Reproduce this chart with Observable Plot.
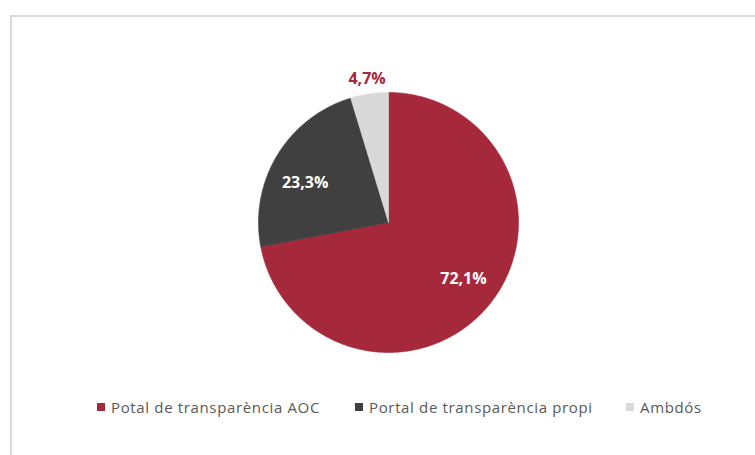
<!DOCTYPE html>
<html>
<head>
<meta charset="utf-8">
<script src="https://cdn.jsdelivr.net/npm/d3@7"></script>
<script src="https://cdn.jsdelivr.net/npm/@observablehq/plot@0.6"></script>
<style>
  html, body { margin: 0; padding: 0; background: #fff; }
  body { width: 755px; height: 455px; overflow: hidden; position: relative; font-family: "Open Sans", "DejaVu Sans", sans-serif; }
  #frame { position: absolute; left: 10px; top: 15px; width: 800px; height: 500px; border-left: 2px solid #d9d9d9; border-top: 2px solid #d9d9d9; box-sizing: border-box; }
  #chart { position: absolute; left: 0; top: 0; }
  #legend { position: absolute; top: 397px; left: 0; width: 755px; height: 22px; font-size: 15px; letter-spacing: 0.65px; color: #595959; }
  .item { position: absolute; top: 0; display: flex; align-items: center; white-space: nowrap; }
  .sw { width: 8px; height: 8px; margin-right: 6px; display: inline-block; }
</style>
</head>
<body>
<div id="frame"></div>
<div id="chart"></div>
<div id="legend"></div>
<script>
const categories = ["Potal de transparència AOC", "Portal de transparència propi", "Ambdós"];
const values = [72.1, 23.3, 4.7];
const labels = ["72,1%", "23,3%", "4,7%"];
const colors = ["#a6283b", "#404040", "#d9d9d9"];

const W = 755, H = 390;
const cx = 388, cy = 222, R = 130;

// slices from d3.pie (clockwise from top, in data order)
const pie = d3.pie().sort(null).value(d => d.value)(categories.map((name, i) => ({name, value: values[i], label: labels[i]})));

const pts = [];
for (const a of pie) {
  const n = Math.max(8, Math.ceil((a.endAngle - a.startAngle) / 0.01));
  pts.push({name: a.data.name, x: 0, y: 0});
  for (let k = 0; k <= n; k++) {
    const t = a.startAngle + (a.endAngle - a.startAngle) * k / n;
    pts.push({name: a.data.name, x: Math.sin(t), y: Math.cos(t)});
  }
  pts.push({name: a.data.name, x: 0, y: 0});
}

// label positions: inner labels inside the slice, the small slice's label outside
const labelRadius = [0.72, 0.71, 1.12];
const labelAngleShift = [-0.05, -0.1, 0];
const labelPts = pie.map((a, i) => {
  const mid = (a.startAngle + a.endAngle) / 2 + labelAngleShift[i];
  const rr = labelRadius[i];
  return {
    name: a.data.name, label: a.data.label,
    x: Math.sin(mid) * rr, y: Math.cos(mid) * rr,
    fill: i === 2 ? colors[0] : "#ffffff"
  };
});

const chart = Plot.plot({
  width: W, height: H,
  margin: 0,
  style: {background: "transparent", overflow: "visible"},
  x: {domain: [-cx / R, (W - cx) / R], range: [0, W], axis: null},
  y: {domain: [-(H - cy) / R, cy / R], range: [H, 0], axis: null},
  color: {domain: categories, range: colors},
  marks: [
    Plot.line(pts, {x: "x", y: "y", z: "name", fill: "name", stroke: "name", strokeWidth: 0.6, curve: "linear"}),
    Plot.text(labelPts, {x: "x", y: "y", text: "label", fill: d => d.fill, fontWeight: "bold", fontSize: 16, fontFamily: "Open Sans, DejaVu Sans, sans-serif"})
  ]
});
document.getElementById("chart").appendChild(chart);

// legend
const legendX = [97, 355, 626];
const leg = document.getElementById("legend");
categories.forEach((c, i) => {
  const it = document.createElement("div");
  it.className = "item";
  it.style.left = legendX[i] + "px";
  const sw = document.createElement("span");
  sw.className = "sw";
  sw.style.background = colors[i];
  const tx = document.createElement("span");
  tx.textContent = c;
  it.appendChild(sw);
  it.appendChild(tx);
  leg.appendChild(it);
});
</script>
</body>
</html>
